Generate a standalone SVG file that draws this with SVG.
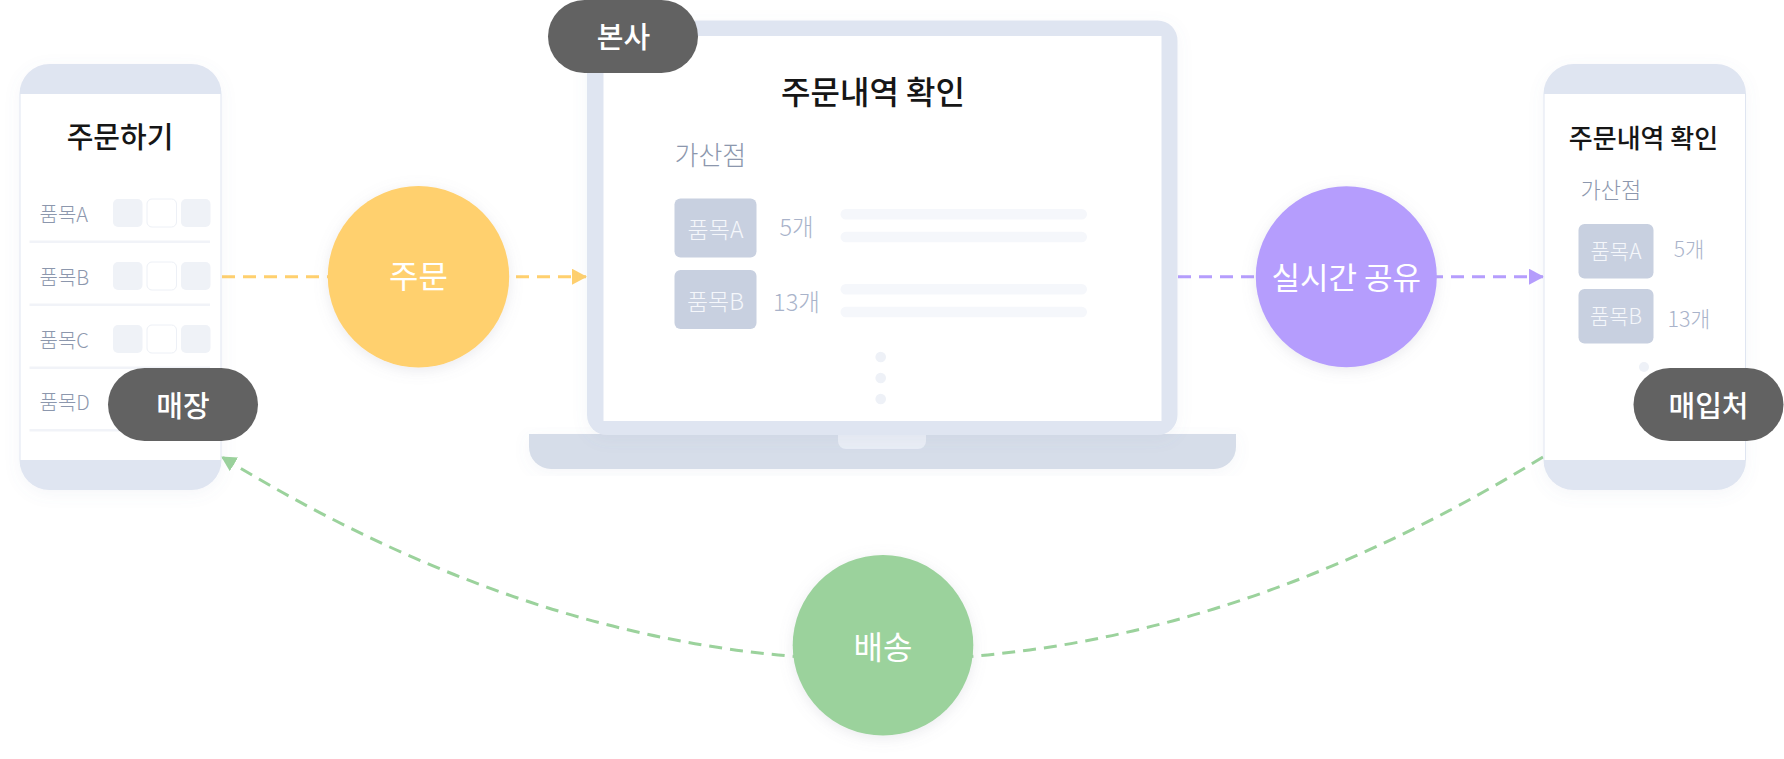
<svg xmlns="http://www.w3.org/2000/svg" width="1784" height="759" viewBox="0 0 1784 759">
<defs>
<style>
.t{font-family:"Noto Sans CJK KR","Noto Sans",sans-serif;}
.title{font-weight:500;fill:#161616;text-anchor:middle;}
.gray{fill:#8c97ad;font-weight:300;}
.light{fill:#a9b3ca;text-anchor:middle;font-weight:300;}
.item{fill:#f5f7fb;text-anchor:middle;font-weight:300;}
.pill{fill:#626262;}
.pilltxt{fill:#ffffff;font-weight:500;text-anchor:middle;}
.ctxt{fill:#ffffff;font-weight:400;text-anchor:middle;}
.frame{fill:#dfe5f1;}
.body{fill:#ffffff;}
.box{fill:#eff2f7;}
.boxw{fill:#ffffff;stroke:#edf0f6;stroke-width:1;}
.sep{fill:#f1f3f8;}
.ibox{fill:#c8d0e0;}
.bar{fill:#f5f7fb;}
.dot{fill:#eef1f7;}
.dash{fill:none;stroke-width:3;stroke-dasharray:13 8;}
</style>
<filter id="sh" x="-20%" y="-20%" width="140%" height="140%">
<feDropShadow dx="0" dy="4" stdDeviation="8" flood-color="#7080a8" flood-opacity="0.07"/>
</filter>
<filter id="csh" x="-30%" y="-30%" width="160%" height="160%">
<feDropShadow dx="0" dy="3" stdDeviation="7" flood-color="#8a8aa0" flood-opacity="0.18"/>
</filter>
<marker id="ay" viewBox="0 0 15 16" refX="14" refY="8" markerWidth="15" markerHeight="16" markerUnits="userSpaceOnUse" orient="auto"><path d="M0,0 L15,8 L0,16 Z" fill="#ffd06e"/></marker>
<marker id="ap" viewBox="0 0 15 16" refX="14" refY="8" markerWidth="15" markerHeight="16" markerUnits="userSpaceOnUse" orient="auto"><path d="M0,0 L15,8 L0,16 Z" fill="#b59dfd"/></marker>
<marker id="ag" viewBox="0 0 15 16" refX="14" refY="8" markerWidth="15" markerHeight="16" markerUnits="userSpaceOnUse" orient="auto"><path d="M0,0 L15,8 L0,16 Z" fill="#9bd29c"/></marker>
</defs>
<rect width="1784" height="759" fill="#ffffff"/>

<g id="connectors">
<path class="dash" stroke="#ffd06e" d="M222,276.7 H586" marker-end="url(#ay)"/>
<path class="dash" stroke="#b59dfd" d="M1178,276.7 H1543" marker-end="url(#ap)"/>
<path class="dash" stroke="#9bd29c" d="M1543,457 Q883,863 222,457" marker-end="url(#ag)"/>
</g>

<g id="store-phone">
<rect x="19.5" y="64" width="202" height="426" rx="30" class="frame" filter="url(#sh)"/>
<rect x="20.5" y="94" width="200" height="366" class="body"/>
<text class="t title" x="120" y="148" font-size="29">주문하기</text>
<g class="t gray" font-size="20">
<text x="39.5" y="222">품목A</text>
<text x="39.5" y="285">품목B</text>
<text x="39.5" y="347.5">품목C</text>
<text x="39.5" y="410">품목D</text>
</g>
<rect x="113" y="199" width="29.5" height="28" rx="5" class="box"/>
<rect x="147" y="199" width="29.5" height="28" rx="5" class="boxw"/>
<rect x="181" y="199" width="29.5" height="28" rx="5" class="box"/>
<rect x="113" y="262" width="29.5" height="28" rx="5" class="box"/>
<rect x="147" y="262" width="29.5" height="28" rx="5" class="boxw"/>
<rect x="181" y="262" width="29.5" height="28" rx="5" class="box"/>
<rect x="113" y="325" width="29.5" height="28" rx="5" class="box"/>
<rect x="147" y="325" width="29.5" height="28" rx="5" class="boxw"/>
<rect x="181" y="325" width="29.5" height="28" rx="5" class="box"/>
<rect x="29.5" y="240.5" width="180.5" height="2.5" class="sep"/>
<rect x="29.5" y="303.5" width="180.5" height="2.5" class="sep"/>
<rect x="29.5" y="366.5" width="180.5" height="2.5" class="sep"/>
<rect x="29.5" y="429" width="180.5" height="2.5" class="sep"/>
</g>

<g id="store-label">
<rect x="108" y="368" width="150" height="73" rx="36.5" class="pill"/>
<text class="t pilltxt" x="183" y="416.5" font-size="29">매장</text>
</g>

<g id="hq-laptop">
<path d="M529,434 H1236 V447 A22,22 0 0 1 1214,469 H551 A22,22 0 0 1 529,447 Z" fill="#d6dde9" filter="url(#sh)"/>
<path d="M838,434 H926 V441 A8,8 0 0 1 918,449 H846 A8,8 0 0 1 838,441 Z" fill="#e9edf5"/>
<rect x="587" y="20.5" width="590.5" height="414.5" rx="20" class="frame" filter="url(#sh)"/>
<rect x="603.5" y="36" width="558" height="385" class="body"/>
<text class="t title" x="873" y="104" font-size="32">주문내역 확인</text>
<text class="t gray" x="674.5" y="164.5" font-size="26">가산점</text>
<rect x="674.5" y="198.5" width="82" height="59" rx="6" class="ibox"/>
<text class="t item" x="715.5" y="238" font-size="23">품목A</text>
<rect x="674.5" y="270" width="82" height="59" rx="6" class="ibox"/>
<text class="t item" x="715.5" y="309.5" font-size="23">품목B</text>
<text class="t light" x="796.5" y="235.5" font-size="23.5">5개</text>
<text class="t light" x="796.5" y="311" font-size="23.5">13개</text>
<rect x="840.5" y="209" width="246.5" height="10.5" rx="5.25" class="bar"/>
<rect x="840.5" y="231.7" width="246.5" height="10.5" rx="5.25" class="bar"/>
<rect x="840.5" y="284" width="246.5" height="10.5" rx="5.25" class="bar"/>
<rect x="840.5" y="306.7" width="246.5" height="10.5" rx="5.25" class="bar"/>
<circle cx="880.7" cy="357" r="5.3" class="dot"/>
<circle cx="880.7" cy="378" r="5.3" class="dot"/>
<circle cx="880.7" cy="399" r="5.3" class="dot"/>
</g>

<g id="hq-label">
<rect x="548" y="0" width="150" height="73" rx="36.5" class="pill"/>
<text class="t pilltxt" x="623.5" y="47.5" font-size="29">본사</text>
</g>

<g id="supplier-phone">
<rect x="1543.5" y="64" width="202.5" height="426" rx="30" class="frame" filter="url(#sh)"/>
<rect x="1544.5" y="94" width="200.5" height="366" class="body"/>
<text class="t title" x="1643.5" y="148" font-size="26">주문내역 확인</text>
<text class="t gray" x="1580.5" y="198" font-size="22">가산점</text>
<rect x="1578.5" y="224" width="75" height="54.5" rx="6" class="ibox"/>
<text class="t item" x="1616" y="259" font-size="21">품목A</text>
<rect x="1578.5" y="289" width="75" height="54.5" rx="6" class="ibox"/>
<text class="t item" x="1616" y="324" font-size="21">품목B</text>
<text class="t light" x="1689" y="256.5" font-size="21">5개</text>
<text class="t light" x="1689" y="326.5" font-size="21.5">13개</text>
<circle cx="1644" cy="367" r="5" class="dot"/>
</g>

<g id="supplier-label">
<rect x="1633.5" y="368" width="150" height="73" rx="36.5" class="pill"/>
<text class="t pilltxt" x="1708.5" y="416.5" font-size="29">매입처</text>
</g>

<g id="order">
<circle cx="418.5" cy="276.7" r="90.7" fill="#ffd06e" filter="url(#csh)"/>
<text class="t ctxt" x="418.5" y="288" font-size="32">주문</text>
</g>

<g id="share">
<circle cx="1346.3" cy="276.7" r="90.5" fill="#b59dfd" filter="url(#csh)"/>
<text class="t ctxt" x="1346.3" y="288.5" font-size="31">실시간 공유</text>
</g>

<g id="delivery">
<circle cx="883" cy="645.3" r="90.3" fill="#9bd29c" filter="url(#csh)"/>
<text class="t ctxt" x="883" y="658.5" font-size="32">배송</text>
</g>
</svg>
